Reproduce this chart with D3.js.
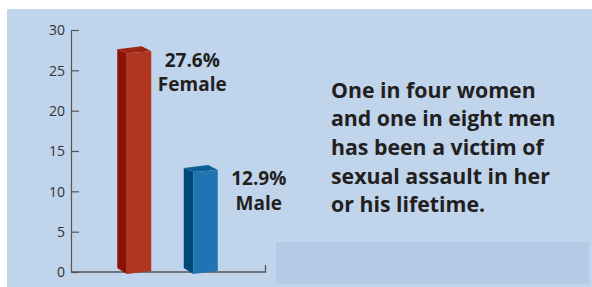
<!DOCTYPE html>
<html><head><meta charset="utf-8">
<script src="https://cdn.jsdelivr.net/npm/d3@7"></script>
<style>
html,body{margin:0;padding:0;background:#fff;}
svg{display:block;}
</style></head>
<body>
<svg id="chart" width="592" height="287"></svg>
<script>
const categories = ["Female", "Male"];
const values = [27.6, 12.9];
const valueLabels = ["27.6%", "12.9%"];
const yTicks = [0, 5, 10, 15, 20, 25, 30];
const noteLines = ["One in four women", "and one in eight men", "has been a victim of", "sexual assault in her", "or his lifetime."];
const frontColors = ["#B0361F", "#1F74B1"];
const sideColors = ["#8C1204", "#004878"];
const topColors = ["#9E2312", "#0B5E96"];

const svg = d3.select("#chart");
const font = "'Open Sans', 'Noto Sans', sans-serif";

// panel
svg.append("rect").attr("x", 7).attr("y", 9).attr("width", 585).attr("height", 278).attr("fill", "#C0D4EC");
svg.append("rect").attr("x", 276).attr("y", 242).attr("width", 313).attr("height", 42).attr("fill", "#B4CAE7");

const y = d3.scaleLinear().domain([0, 30]).range([272, 30]);
const x = d3.scalePoint().domain(categories).range([139, 205.5]);

// y axis
const yAxis = d3.axisRight(y).tickValues(yTicks).tickSize(8).tickSizeOuter(0).tickPadding(0);
const gy = svg.append("g").attr("transform", "translate(71,0)").call(yAxis);
gy.select(".domain").attr("stroke", "#555").attr("stroke-width", 1.2);
gy.selectAll(".tick line").attr("stroke", "#555").attr("stroke-width", 1.2);
gy.selectAll(".tick text").attr("x", -6).attr("text-anchor", "end").attr("dy", "0.35em")
  .attr("fill", "#333").style("font-family", font).style("font-size", "14px");

// x baseline
svg.append("path").attr("d", `M71,${y(0)}H265.5V${y(0) - 7}`).attr("fill", "none").attr("stroke", "#555").attr("stroke-width", 1.3);

// 3D bars
const bw = 24.5;
const depth = 9.5;
categories.forEach((c, i) => {
  const x0 = x(c) - bw / 2, x1 = x0 + bw;
  const yt = y(values[i]) + 4, yb = y(0) + 2;
  const g = svg.append("g");
  // side face
  g.append("path").attr("d", `M${x0},${yt}L${x0 - depth},${yt - 4}L${x0 - depth},${yb - 6}L${x0},${yb}Z`).attr("fill", sideColors[i]);
  // top face
  g.append("path").attr("d", `M${x0},${yt}L${x0 - depth},${yt - 4}L${x1 - depth},${yt - 7}L${x1},${yt - 2}Z`).attr("fill", topColors[i]);
  // front face
  g.append("path").attr("d", `M${x0},${yt}L${x1},${yt - 2}L${x1},${yb - 3}L${x0},${yb}Z`).attr("fill", frontColors[i]);
  // labels
  const cx = x1 + 41;
  const yl = y(values[i]) + 17.5;
  svg.append("text").attr("x", cx).attr("y", yl).attr("text-anchor", "middle")
    .style("font-family", font).style("font-weight", 700).style("font-size", "19px").attr("fill", "#231F20").text(valueLabels[i]);
  svg.append("text").attr("x", cx).attr("y", yl + 24.5).attr("text-anchor", "middle")
    .style("font-family", font).style("font-weight", 700).style("font-size", "19px").attr("fill", "#231F20").text(c);
});

// note text
const note = svg.append("text").attr("x", 331).attr("y", 97.5)
  .style("font-family", font).style("font-weight", 700).style("font-size", "21.3px").attr("fill", "#231F20");
noteLines.forEach((l, i) => {
  note.append("tspan").attr("x", 331).attr("y", 97.5 + i * 28.7).text(l);
});
</script>
</body></html>
